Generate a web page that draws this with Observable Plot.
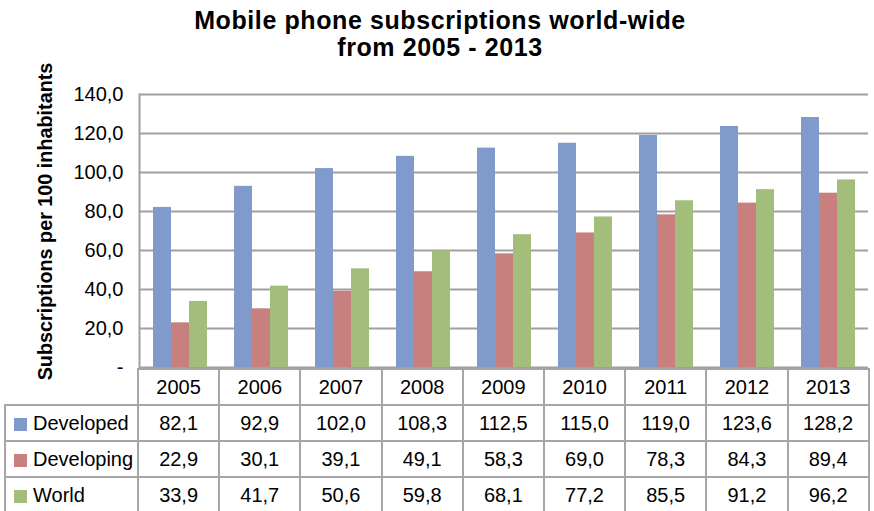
<!DOCTYPE html>
<html>
<head>
<meta charset="utf-8">
<script src="https://cdn.jsdelivr.net/npm/d3@7"></script>
<script src="https://cdn.jsdelivr.net/npm/@observablehq/plot@0.6"></script>
<style>
  body { margin: 0; background: #fff; font-family: "Liberation Sans", Arial, sans-serif; color: #000; }
  #wrap { width: 874px; height: 511px; position: relative; overflow: hidden; background: #fff; }
  #title { height: 70px; box-sizing: border-box; padding-top: 7px; padding-left: 6px; text-align: center;
           font-weight: bold; font-size: 25px; line-height: 27px; letter-spacing: 0.6px; }
  #chart svg { display: block; overflow: visible; }
  table { border-collapse: collapse; table-layout: fixed; margin-left: 4px; font-size: 20px; }
  td { border: 2px solid #a6a6a6; text-align: center; padding: 0; height: 34px; white-space: nowrap; overflow: hidden; }
  td.blank { border-top: none; border-left: none; }
  td.name { text-align: left; padding-left: 8px; }
  .sw { display: inline-block; width: 13px; height: 13px; margin-right: 6px; vertical-align: -1px; }
</style>
</head>
<body>
<div id="wrap">
  <div id="title">Mobile phone subscriptions world-wide<br>from 2005 - 2013</div>
  <div id="chart"></div>
  <div id="table"></div>
</div>
<script>
const years = ["2005", "2006", "2007", "2008", "2009", "2010", "2011", "2012", "2013"];
const seriesNames = ["Developed", "Developing", "World"];
const developed = [82.1, 92.9, 102.0, 108.3, 112.5, 115.0, 119.0, 123.6, 128.2];
const developing = [22.9, 30.1, 39.1, 49.1, 58.3, 69.0, 78.3, 84.3, 89.4];
const world = [33.9, 41.7, 50.6, 59.8, 68.1, 77.2, 85.5, 91.2, 96.2];
const seriesColors = ["#809bcb", "#c8807f", "#a3be7a"];
const yTicks = [0, 20, 40, 60, 80, 100, 120, 140];
const yLabel = "Subscriptions per 100 inhabitants";

const seriesValues = [developed, developing, world];
const rows = years.flatMap((yr, i) => seriesNames.map((s, j) => ({year: yr, series: s, value: seriesValues[j][i]})));
const fmt = v => v === 0 ? "-" : v.toFixed(1).replace(".", ",");

const chart = Plot.plot({
  width: 874,
  height: 298,
  marginLeft: 138,
  marginRight: 5,
  marginTop: 24,
  marginBottom: 1,
  style: {fontFamily: "'Liberation Sans', Arial, sans-serif", overflow: "visible", background: "transparent"},
  fx: {domain: years, padding: 0, axis: null, label: null},
  x: {domain: seriesNames, paddingInner: 0, paddingOuter: 0.72, axis: null, label: null},
  y: {domain: [0, 140], axis: null},
  color: {domain: seriesNames, range: seriesColors},
  marks: [
    Plot.gridY(yTicks, {stroke: "#a0a0a0", strokeOpacity: 1, strokeWidth: 2}),
    Plot.barY(rows, {fx: "year", x: "series", y: "value", fill: "series"}),
    Plot.axisY(yTicks, {tickSize: 0, tickPadding: 16, fontSize: 20, tickFormat: fmt, label: null, facetAnchor: "left"}),
    Plot.frame({anchor: "left", stroke: "#a0a0a0", strokeWidth: 2, facetAnchor: "left"}),
    Plot.text([yLabel], {text: d => d, frameAnchor: "left", textAnchor: "middle", lineAnchor: "middle",
      rotate: -90, dx: -93.5, dy: -9.5,
      fontSize: 19.8, fontWeight: "bold", facetAnchor: "left"})
  ]
});
document.getElementById("chart").appendChild(chart);

// data table (x labels + legend)
const table = d3.select("#table").append("table");
const cg = table.append("colgroup");
cg.append("col").style("width", "133px");
years.forEach(() => cg.append("col").style("width", "81.2px"));
const head = table.append("tr");
head.append("td").attr("class", "blank");
years.forEach(y => head.append("td").text(y));
seriesNames.forEach((s, j) => {
  const tr = table.append("tr");
  const c = tr.append("td").attr("class", "name");
  c.append("span").attr("class", "sw").style("background", seriesColors[j]);
  c.append("span").text(s);
  seriesValues[j].forEach(v => tr.append("td").text(fmt(v)));
});
</script>
</body>
</html>
